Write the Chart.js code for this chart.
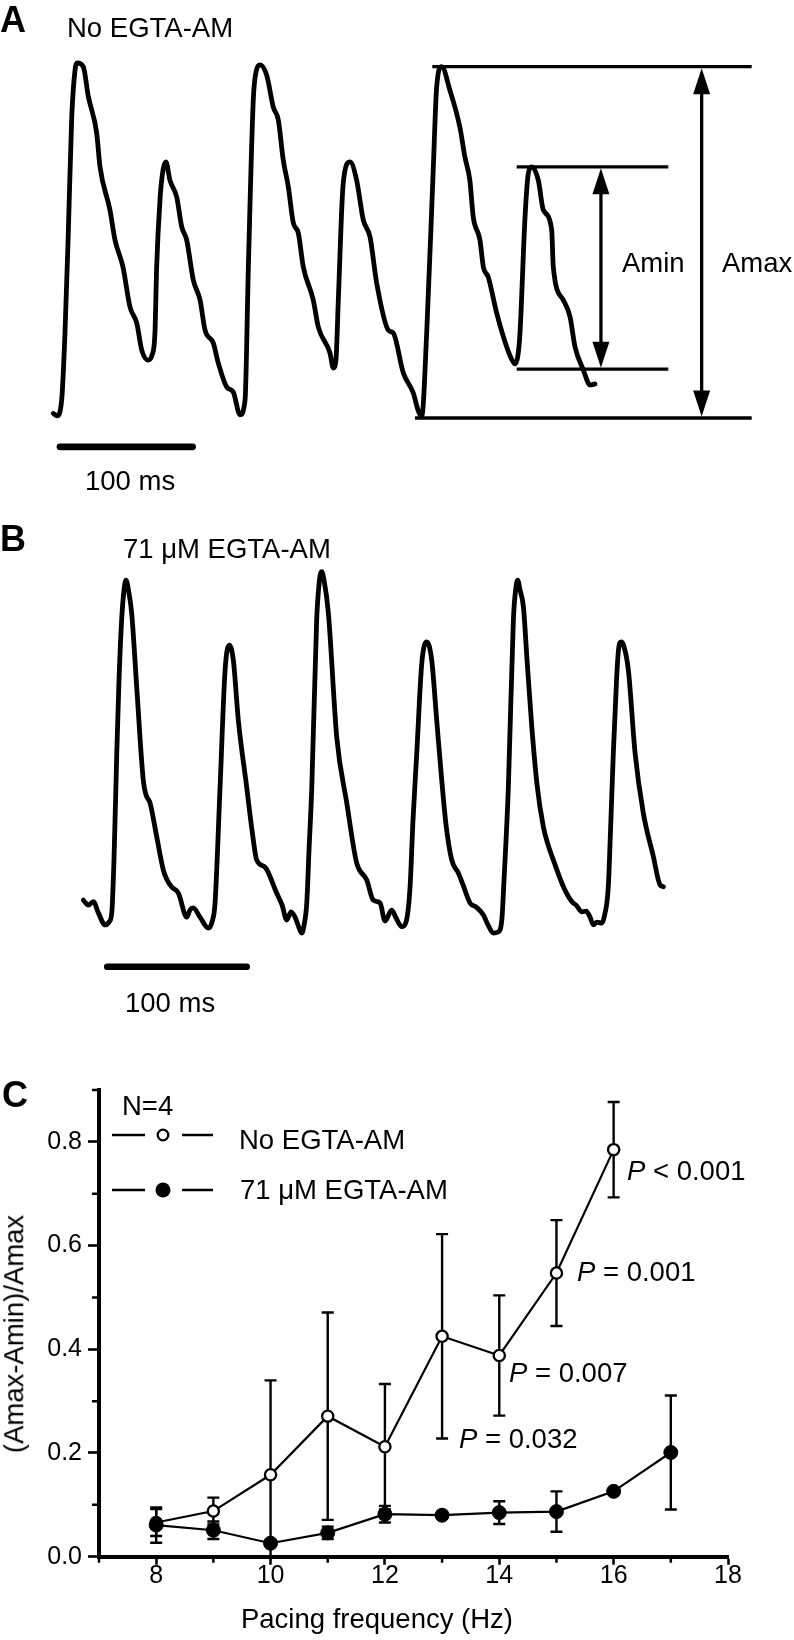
<!DOCTYPE html>
<html><head><meta charset="utf-8"><title>EGTA-AM alternans</title>
<script src="https://cdn.jsdelivr.net/npm/chart.js@4.4.1/dist/chart.umd.min.js"></script>
<style>
html,body{margin:0;padding:0;background:#fff;overflow:hidden;}
#fig{position:relative;width:794px;height:1640px;font-family:"Liberation Sans",Arial,Helvetica,sans-serif;color:#000;}
canvas{position:absolute;left:0;}
.t{position:absolute;white-space:nowrap;font-size:27.5px;line-height:1;}
.L{font-weight:bold;font-size:36px;}
</style></head><body>
<div id="fig">
<canvas id="cA" width="794" height="520" style="top:0"></canvas>
<canvas id="cB" width="794" height="500" style="top:520px"></canvas>
<canvas id="cC" width="794" height="580" style="top:1060px"></canvas>
<div class="t L" style="left:0px;top:2px">A</div>
<div class="t" style="left:67px;top:14px">No EGTA-AM</div>
<div class="t" style="left:85px;top:467px">100 ms</div>
<div class="t" style="left:622px;top:249px">Amin</div>
<div class="t" style="left:722px;top:249px">Amax</div>
<div class="t L" style="left:0px;top:521px">B</div>
<div class="t" style="left:123px;top:535px">71 μM EGTA-AM</div>
<div class="t" style="left:125px;top:989px">100 ms</div>
<div class="t L" style="left:2px;top:1077px">C</div>
<div class="t" style="left:122px;top:1092px">N=4</div>
<div class="t" style="left:239px;top:1126px">No EGTA-AM</div>
<div class="t" style="left:240px;top:1176px">71 μM EGTA-AM</div>
<div class="t" style="left:627px;top:1157px"><i>P</i> &lt; 0.001</div>
<div class="t" style="left:577px;top:1258px"><i>P</i> = 0.001</div>
<div class="t" style="left:509px;top:1359px"><i>P</i> = 0.007</div>
<div class="t" style="left:459px;top:1425px"><i>P</i> = 0.032</div>
<div class="t" style="left:377px;top:1605px;transform:translateX(-50%)">Pacing frequency (Hz)</div>
<div class="t" style="left:14px;top:1334px;transform:translate(-50%,-50%) rotate(-90deg)">(Amax-Amin)/Amax</div>
</div>
<script>
// ---------- Panel A: trace without EGTA-AM (time in ms, amplitude normalised to Amax) ----------
const traceATime = [0,2.8,6.3,8.8,11.3,13.9,16.4,18.1,22.6,26.4,
 32.7,35.2,42.7,46.5,52.5,57.8,62.9,66.6,71.4,74.4,
 76.6,77.9,80.4,82.7,84.9,87.9,93.0,96.8,100.5,105.5,
 110.6,114.3,120.6,124.3,130.7,135.6,140.7,144.5,147.0,150.7,
 152.8,155.8,160.8,165.8,169.6,173.3,177.1,180.9,184.6,188.4,
 195.9,199.7,208.5,211.0,213.0,214.8,218.5,223.6,228.6,233.6,
 238.7,243.7,252.5,256.2,263.8,271.3,274.8,277.6,281.4,286.4,
 288.9,292.7,298.8,306.4,310.2,313.9,316.5,321.5,324.1,327.8,
 334.1,341.7,345.7,347.9,350.2,351.7,355.5,358.0,360.5,365.5,
 369.3,375.6,376.8,384.3,389.4,393.2,399.4,404.5,408.2];
const traceAAmp = [0.013,0.006,0.051,0.242,0.527,0.857,0.991,1.011,1.0,0.915,
 0.811,0.715,0.592,0.507,0.430,0.316,0.270,0.194,0.165,0.179,
 0.242,0.431,0.621,0.706,0.729,0.677,0.629,0.544,0.507,0.393,
 0.336,0.251,0.213,0.157,0.088,0.074,0.009,0.051,0.430,0.905,
 0.985,1.005,0.976,0.885,0.848,0.734,0.658,0.555,0.527,0.430,
 0.336,0.259,0.185,0.142,0.165,0.336,0.669,0.729,0.677,0.564,
 0.515,0.384,0.250,0.242,0.128,0.071,0.023,0.003,0.242,0.715,
 0.942,1.0,0.934,0.828,0.743,0.677,0.572,0.507,0.430,0.401,
 0.299,0.202,0.165,0.154,0.179,0.242,0.572,0.697,0.715,0.677,
 0.592,0.535,0.430,0.336,0.288,0.202,0.137,0.094,0.097];
// Amax / Amin marker levels (normalised amplitude) and their time spans (ms)
const amaxLevels = [1.0, 0.0];
const amaxSpanTop = [285.6, 526.3];
const amaxSpanBottom = [272.6, 526.3];
const aminLevels = [0.715, 0.139];
const aminSpan = [349.2, 463.5];
const aminArrowTime = 412.7;
const amaxArrowTime = 488.6;
const scaleBarA = [5.0, 105.0];      // 100 ms
const scaleBarALevel = -0.082;

// ---------- Panel B: trace with 71 µM EGTA-AM ----------
const traceBTime = [0,3.6,7.2,10.8,15.6,18.4,20.4,22.0,24.0,25.6,
 27.5,29.2,30.6,32.4,34.7,38.3,43.0,45.0,47.9,52.7,
 57.4,60.1,63.4,68.2,74.2,76.5,78.9,83.7,89.7,92.3,
 94.5,98.1,101.7,104.7,107.6,111.2,117.2,121.0,124.4,130.4,
 138.7,142.6,145.9,149.0,151.9,154.0,156.7,158.4,160.3,161.9,
 163.9,167.4,169.4,171.0,172.7,175.8,181.8,189.0,196.1,203.3,
 208.0,212.9,216.4,221.2,224.3,228.4,231.5,234.4,236.5,239.2,
 242.8,246.4,249.9,253.5,257.1,260.2,264.3,269.0,272.4,277.4,
 281.7,287.0,290.3,294.1,297.5,300.2,301.8,304.9,308.5,310.1,
 311.6,313.3,315.7,318.3,321.7,325.5,330.0,333.4,337.2,344.4,
 350.4,353.5,357.6,360.7,363.5,365.9,368.5,371.9,373.6,376.6,
 378.2,380.2,382.5,383.9,385.7,387.5,391.0,395.8,401.7,408.9,
 413.7,416.1];
const traceBAmp = [0.073,0.059,0.069,0.037,0.003,0.011,0.037,0.186,0.488,0.694,
 0.864,0.948,0.976,0.948,0.883,0.675,0.412,0.370,0.347,0.251,
 0.158,0.130,0.110,0.093,0.025,0.045,0.051,0.025,-0.006,0.011,
 0.065,0.392,0.722,0.793,0.751,0.581,0.392,0.271,0.186,0.166,
 0.093,0.059,0.017,0.040,0.025,0.003,-0.020,0.003,0.065,0.214,
 0.392,0.864,0.976,1.0,0.976,0.883,0.533,0.347,0.178,0.130,
 0.073,0.065,0.014,0.045,0.023,-0.002,0.011,0.111,0.299,0.488,
 0.742,0.802,0.751,0.581,0.412,0.285,0.186,0.150,0.116,0.065,
 0.054,0.031,0.003,-0.020,-0.017,0.017,0.130,0.392,0.864,0.948,
 0.976,0.948,0.901,0.751,0.563,0.398,0.280,0.229,0.186,0.111,
 0.069,0.059,0.040,0.042,0.025,0.003,0.011,0.008,0.025,0.111,
 0.271,0.488,0.694,0.779,0.802,0.793,0.722,0.488,0.319,0.196,
 0.116,0.111];
const scaleBarB = [17.2, 117.2];     // 100 ms
const scaleBarBLevel = -0.115;

// ---------- Panel C: (Amax-Amin)/Amax vs pacing frequency ----------
const freqNo = [8,9,10,11,12,13,14,15,16];
const ratioNo = [0.066,0.088,0.158,0.271,0.212,0.425,0.388,0.547,0.785];
const semNo = [0.026,0.026,0.182,0.200,0.121,0.197,0.116,0.102,0.092];
const freqEgta = [8,9,10,11,12,13,14,15,16,17];
const ratioEgta = [0.061,0.051,0.026,0.046,0.082,0.080,0.085,0.087,0.126,0.201];
const semEgta = [0.034,0.017,0,0.012,0.016,0,0.022,0.039,0,0.110];
const xTickLabels = ['8','10','12','14','16','18'];
const yTickLabels = ['0.0','0.2','0.4','0.6','0.8'];

Chart.defaults.font.family = '"Liberation Sans", Arial, sans-serif';
Chart.defaults.color = '#000';

const pts = (xs, ys) => xs.slice(0, Math.min(xs.length, ys.length)).map((x, i) => ({x, y: ys[i]}));
const seg = (span, level) => [{x: span[0], y: level}, {x: span[1], y: level}];
const lineDs = (data, w, extra) => Object.assign({data, borderColor:'#000', borderWidth:w, pointRadius:0, fill:false, tension:0, borderCapStyle:'butt'}, extra || {});
const hiddenScales = (xmin, xmax, ymin, ymax) => ({
  x:{type:'linear', display:false, min:xmin, max:xmax},
  y:{type:'linear', display:false, min:ymin, max:ymax}
});
const baseOpts = {responsive:false, maintainAspectRatio:false, animation:false, events:[],
  layout:{padding:0}, plugins:{legend:{display:false}, tooltip:{enabled:false}}};

// double-headed arrows for Amin / Amax
const arrowPlugin = {
  id:'arrows',
  afterDatasetsDraw(chart){
    const {ctx, scales:{x, y}} = chart;
    const arrows = [
      {t: aminArrowTime, lo: aminLevels[1], hi: aminLevels[0]},
      {t: amaxArrowTime, lo: amaxLevels[1], hi: amaxLevels[0]}
    ];
    ctx.save();
    ctx.fillStyle = '#000'; ctx.strokeStyle = '#000'; ctx.lineWidth = 3.3;
    const hl = 26, hw = 8.5;
    arrows.forEach(a => {
      const px = x.getPixelForValue(a.t);
      const yt = y.getPixelForValue(a.hi) + 1.5;
      const yb = y.getPixelForValue(a.lo) - 1.5;
      ctx.beginPath(); ctx.moveTo(px, yt + hl - 2); ctx.lineTo(px, yb - hl + 2); ctx.stroke();
      ctx.beginPath(); ctx.moveTo(px, yt); ctx.lineTo(px - hw, yt + hl); ctx.lineTo(px + hw, yt + hl); ctx.closePath(); ctx.fill();
      ctx.beginPath(); ctx.moveTo(px, yb); ctx.lineTo(px - hw, yb - hl); ctx.lineTo(px + hw, yb - hl); ctx.closePath(); ctx.fill();
    });
    ctx.restore();
  }
};

new Chart(document.getElementById('cA'), {
  type:'line',
  data:{datasets:[
    lineDs(pts(traceATime, traceAAmp), 4.8, {cubicInterpolationMode:'monotone', borderJoinStyle:'round', borderCapStyle:'round'}),
    lineDs(seg(amaxSpanTop, amaxLevels[0]), 3.3),
    lineDs(seg(amaxSpanBottom, amaxLevels[1]), 3.3),
    lineDs(seg(aminSpan, aminLevels[0]), 3.3),
    lineDs(seg(aminSpan, aminLevels[1]), 3.3),
    lineDs(seg(scaleBarA, scaleBarALevel), 6.7, {borderCapStyle:'round'})
  ]},
  options:Object.assign({}, baseOpts, {scales:hiddenScales(-40.17, 558.2, -0.2904, 1.1899)}),
  plugins:[arrowPlugin]
});

new Chart(document.getElementById('cB'), {
  type:'line',
  data:{datasets:[
    lineDs(pts(traceBTime, traceBAmp), 4.8, {cubicInterpolationMode:'monotone', borderJoinStyle:'round', borderCapStyle:'round'}),
    lineDs(seg(scaleBarB, scaleBarBLevel), 6.7, {borderCapStyle:'round'})
  ]},
  options:Object.assign({}, baseOpts, {scales:hiddenScales(-59.76, 509.8, -0.2653, 1.1459)})
});

// ---------- Panel C ----------
const isMajorX = v => Math.abs(v % 2) < 1e-6;
const isMajorY = v => Math.round(v * 10) % 2 === 0;

const errPlugin = {
  id:'errbars',
  beforeDatasetsDraw(chart){
    const {ctx, chartArea:a, scales:{x, y}} = chart;
    ctx.save();
    ctx.beginPath(); ctx.rect(a.left, a.top - 10, a.right - a.left, a.bottom - a.top + 10); ctx.clip();
    ctx.strokeStyle = '#000'; ctx.lineWidth = 2.4;
    const draw = (fs, vs, es) => fs.forEach((f, i) => {
      if (!es[i]) return;
      const px = x.getPixelForValue(f);
      const lo = vs[i] - es[i], hi = vs[i] + es[i];
      const y1 = y.getPixelForValue(lo), y2 = y.getPixelForValue(hi);
      ctx.beginPath();
      ctx.moveTo(px, y1); ctx.lineTo(px, y2);
      ctx.moveTo(px - 6, y2); ctx.lineTo(px + 6, y2);
      if (lo > 0) { ctx.moveTo(px - 6, y1); ctx.lineTo(px + 6, y1); }
      ctx.stroke();
    });
    draw(freqNo, ratioNo, semNo);
    draw(freqEgta, ratioEgta, semEgta);
    ctx.restore();
  },
  afterDraw(chart){
    const {ctx, chartArea:a, scales:{x, y}} = chart;
    ctx.save();
    ctx.strokeStyle = '#000'; ctx.lineWidth = 2.5;
    ctx.beginPath();
    x.ticks.filter(t => !isMajorX(t.value)).forEach(t => {
      const p = x.getPixelForValue(t.value); ctx.moveTo(p, a.bottom); ctx.lineTo(p, a.bottom + 6);
    });
    y.ticks.filter(t => !isMajorY(t.value)).forEach(t => {
      const p = y.getPixelForValue(t.value); ctx.moveTo(a.left, p); ctx.lineTo(a.left - 7, p);
    });
    ctx.stroke();
    // legend samples
    ctx.lineWidth = 2.3;
    [[75, false], [130, true]].forEach(([ly, filled]) => {
      ctx.beginPath();
      ctx.moveTo(112, ly); ctx.lineTo(145, ly);
      ctx.moveTo(182, ly); ctx.lineTo(213, ly);
      ctx.stroke();
      ctx.beginPath();
      if (filled) { ctx.arc(163, ly, 7.5, 0, Math.PI * 2); ctx.fillStyle = '#000'; ctx.fill(); }
      else { ctx.arc(163, ly, 5.3, 0, Math.PI * 2); ctx.fillStyle = '#fff'; ctx.fill(); ctx.lineWidth = 2.3; ctx.stroke(); }
    });
    ctx.restore();
  }
};

new Chart(document.getElementById('cC'), {
  type:'line',
  data:{datasets:[
    {label:'71 μM EGTA-AM', data:pts(freqEgta, ratioEgta), borderColor:'#000', borderWidth:2.2,
     pointRadius:7, pointBorderWidth:1, pointBackgroundColor:'#000', pointBorderColor:'#000', tension:0, order:1, clip:false},
    {label:'No EGTA-AM', data:pts(freqNo, ratioNo), borderColor:'#000', borderWidth:2.2,
     pointRadius:5.6, pointBorderWidth:2.3, pointBackgroundColor:'#fff', pointBorderColor:'#000', tension:0, order:2, clip:false}
  ]},
  options:Object.assign({}, baseOpts, {
    layout:{padding:{left:0, top:30, right:66, bottom:0}},
    scales:{
      x:{type:'linear', min:7, max:18, afterFit(s){ s.height = 83.3; },
         border:{display:true, color:'#000', width:4},
         grid:{display:true, drawOnChartArea:false, drawTicks:true, tickLength:8, tickWidth:2.6,
               tickColor:c => (c.tick && isMajorX(c.tick.value)) ? '#000' : 'rgba(0,0,0,0)'},
         ticks:{stepSize:1, autoSkip:false, maxRotation:0, padding:1, color:'#000',
                font:{size:25, lineHeight:0.8},
                callback:v => isMajorX(v) ? (xTickLabels.includes(String(v)) ? String(v) : '') : ''},
         title:{display:false}
      },
      y:{type:'linear', min:0, max:0.9, afterFit(s){ s.width = 99; },
         border:{display:true, color:'#000', width:4},
         grid:{display:true, drawOnChartArea:false, drawTicks:true, tickLength:11, tickWidth:2.6,
               tickColor:c => (c.tick && isMajorY(c.tick.value)) ? '#000' : 'rgba(0,0,0,0)'},
         ticks:{stepSize:0.1, autoSkip:false, padding:6, color:'#000', font:{size:25},
                callback:v => { const s = v.toFixed(1); return isMajorY(v) && yTickLabels.includes(s) ? s : ''; }},
         title:{display:false}
      }
    }
  }),
  plugins:[errPlugin]
});
</script>
</body></html>
